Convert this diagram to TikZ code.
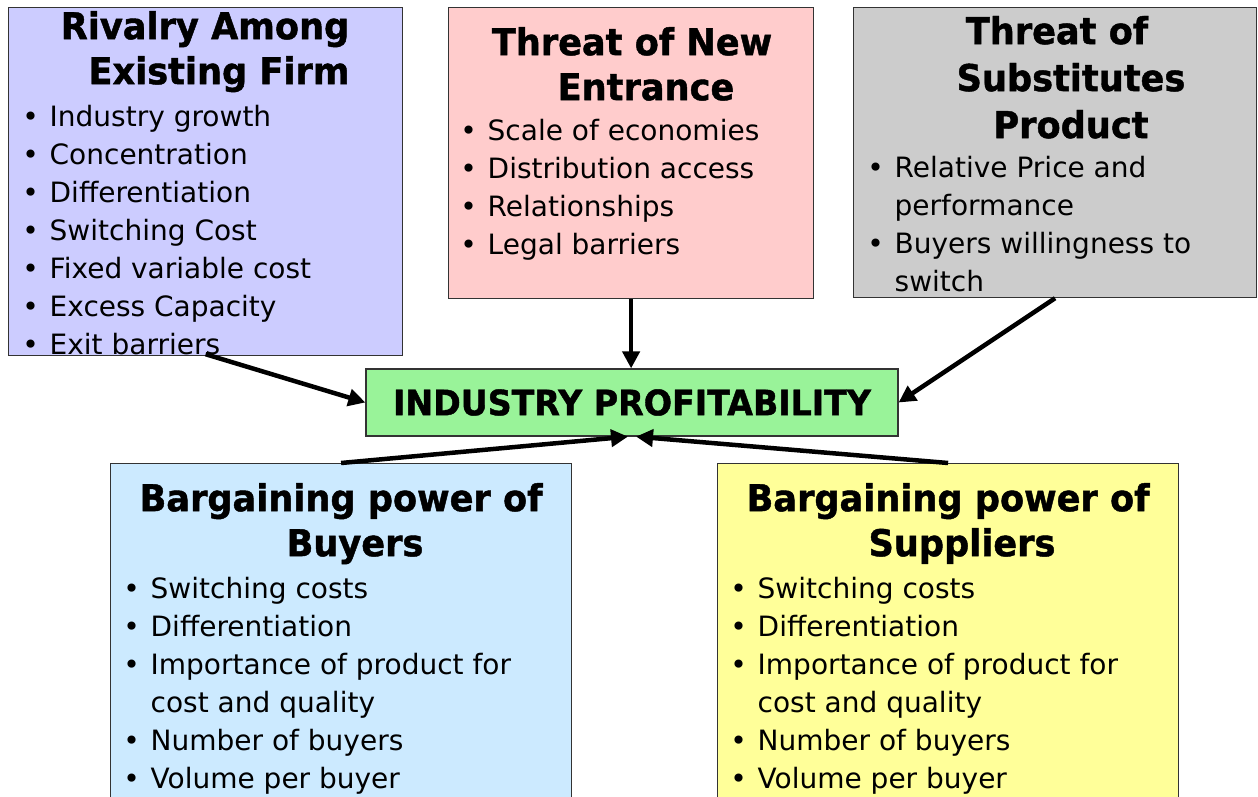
\documentclass[tikz,border=0pt]{standalone}
\usepackage{fontspec}
\setmainfont{DejaVu Sans}[BoldFeatures={FakeStretch=0.95,FakeBold=1.2}]
\usetikzlibrary{arrows.meta}

\definecolor{rivalfill}{HTML}{CCCCFF}
\definecolor{entrfill}{HTML}{FFCCCC}
\definecolor{subsfill}{HTML}{CCCCCC}
\definecolor{proffill}{HTML}{99F399}
\definecolor{buyerfill}{HTML}{CCEAFF}
\definecolor{suppfill}{HTML}{FFFF99}

\newcommand{\itm}{\strut\makebox[38pt][c]{\textbullet}}
\newcommand{\cnt}{\strut\hspace*{38pt}}
\newcommand{\wrp}{\hspace*{28pt}}

\tikzset{
  box/.style={draw=black!80, line width=1.2pt, inner sep=0pt, anchor=north west},
  head/.style={anchor=north, inner sep=0pt, align=center, font=\bfseries\fontsize{37}{45}\selectfont},
  blist/.style={anchor=north west, inner sep=0pt, align=left, font=\fontsize{28}{38}\selectfont},
  force/.style={line width=4.5pt, -{Triangle[length=17pt,width=17pt]}}
}

\begin{document}
\begin{tikzpicture}[x=1pt,y=-1pt]
    \clip (0,0) rectangle (1258,797);
    \fill[white] (0,0) rectangle (1258,797);

    % five forces
    \node[box, fill=rivalfill, minimum width=394pt, minimum height=348pt] (rival) at (8,7) {};
    \node[box, fill=entrfill, minimum width=365pt, minimum height=291pt] (entr) at (448,7) {};
    \node[box, fill=subsfill, minimum width=403pt, minimum height=290pt] (subs) at (853,7) {};
    \node[box, fill=buyerfill, minimum width=461pt, minimum height=345pt] (buyer) at (110,463) {};
    \node[box, fill=suppfill, minimum width=461pt, minimum height=345pt] (supp) at (717,463) {};
    \node[draw=black!80, line width=1.2pt, fill=proffill, minimum width=532pt, minimum height=67pt,
          font=\bfseries\fontsize{35}{42}\selectfont] (prof) at (632,402.5) {INDUSTRY PROFITABILITY};

    \node[head] (rivalT) at (205,7.5) {\strut Rivalry Among\\\wrp Existing Firm};
    \node[blist] (rivalL) at (11.5,99.4) {\itm Industry growth\\\itm Concentration\\\itm Differentiation\\
        \itm Switching Cost\\\itm Fixed variable cost\\\itm Excess Capacity\\\itm Exit barriers};

    \node[head] (entrT) at (632,23.5) {\strut Threat of New\\\wrp Entrance};
    \node[blist] (entrL) at (449.5,113.4) {\itm Scale of economies\\\itm Distribution access\\
        \itm Relationships\\\itm Legal barriers};

    \node[head, font=\bfseries\fontsize{37}{47}\selectfont] (subsT) at (1057,11) {\strut Threat of\\\wrp Substitutes\\\wrp Product};
    \node[blist] (subsL) at (856.5,150.4) {\itm Relative Price and\\\cnt performance\\
        \itm Buyers willingness to\\\cnt switch};

    \node[head] (buyerT) at (341,479.5) {\strut Bargaining power of\\\wrp Buyers};
    \node[blist] (buyerL) at (112.5,571.4) {\itm Switching costs\\\itm Differentiation\\
        \itm Importance of product for\\\cnt cost and quality\\\itm Number of buyers\\\itm Volume per buyer};

    \node[head] (suppT) at (948,479.5) {\strut Bargaining power of\\\wrp Suppliers};
    \node[blist] (suppL) at (719.5,571.4) {\itm Switching costs\\\itm Differentiation\\
        \itm Importance of product for\\\cnt cost and quality\\\itm Number of buyers\\\itm Volume per buyer};

    \draw[force] ([yshift=2pt]rival.south) -- (prof.west);
    \draw[force] (entr.south) -- (entr.south |- prof.north);
    \draw[force] (subs.south) -- (prof.east);
    \draw[force] (buyer.north) -- ([xshift=-4pt]prof.south);
    \draw[force] (supp.north) -- ([xshift=4pt]prof.south);

\end{tikzpicture}
\end{document}
